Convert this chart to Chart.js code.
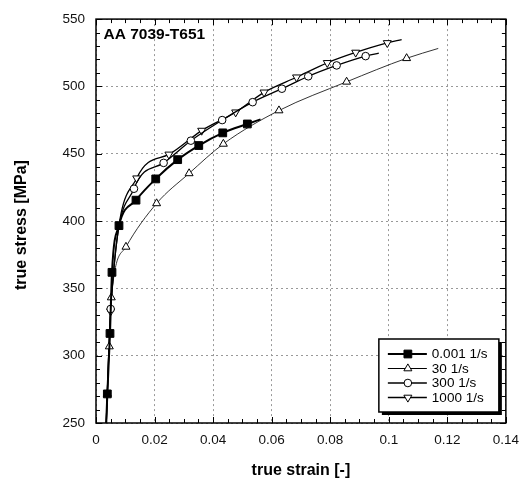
<!DOCTYPE html>
<html>
<head>
<meta charset="utf-8">
<title>AA 7039-T651 true stress vs true strain</title>
<script src="https://cdn.jsdelivr.net/npm/chart.js@4.4.1/dist/chart.umd.min.js"></script>
<style>
  html, body { margin: 0; padding: 0; background: #fff; }
  #wrap { position: relative; width: 528px; height: 484px; }
</style>
</head>
<body>
<div id="wrap"><canvas id="chart"></canvas></div>
<script>
// values; first and last point of each curve are line ends (no marker)
const rateLabels = ['0.001 1/s', '30 1/s', '300 1/s', '1000 1/s'];

const strain0001 = [0.0035, 0.00387, 0.00478, 0.00546, 0.00785, 0.01366, 0.0204, 0.0279, 0.0351, 0.0433, 0.0517, 0.0562];
const stress0001 = [250, 271.6, 316.5, 361.9, 396.6, 415.5, 431.3, 445.6, 456.1, 465.5, 472.1, 475.5];

const strain30 = [0.0035, 0.00387, 0.00455, 0.00523, 0.01024, 0.0207, 0.0318, 0.0435, 0.0625, 0.0856, 0.1061, 0.1169];
const stress30 = [250, 271.6, 306.8, 343.2, 380.8, 413.1, 435.4, 457.3, 482.1, 503.4, 520.9, 528.2];

const strain300 = [0.0035, 0.00501, 0.01297, 0.0231, 0.0324, 0.0431, 0.0535, 0.0635, 0.0725, 0.0822, 0.0921, 0.0966];
const stress300 = [250, 334.7, 424.0, 443.2, 459.7, 475.0, 488.3, 498.3, 507.5, 515.6, 522.5, 524.7];

const strain1000 = [0.0035, 0.0050, 0.0139, 0.0249, 0.0361, 0.0477, 0.0574, 0.0685, 0.0790, 0.0887, 0.0995, 0.1044];
const stress1000 = [250, 333.0, 431.8, 449.5, 467.2, 480.8, 495.6, 506.8, 517.5, 525.2, 532.3, 534.7];

const xTickValues = [0, 0.02, 0.04, 0.06, 0.08, 0.1, 0.12, 0.14];
const yTickValues = [250, 300, 350, 400, 450, 500, 550];
const xMinorStep = 0.005;
const yMinorStep = 10;

const FONT = '"Liberation Sans", Arial, Helvetica, sans-serif';

function makeSeries(label, xs, ys, opts) {
  const last = xs.length - 1;
  return {
    label: label,
    data: xs.map((x, i) => ({ x: x, y: ys[i] })),
    borderColor: '#000',
    borderWidth: opts.lineWidth,
    pointStyle: opts.style,
    rotation: opts.rotation || 0,
    pointRadius: xs.map((x, i) => (i === 0 || i === last) ? 0 : opts.radius),
    pointHoverRadius: 0,
    pointBackgroundColor: opts.fill,
    pointBorderColor: '#000',
    pointBorderWidth: 1,
    cubicInterpolationMode: 'monotone',
    showLine: true,
    fill: false,
    _legend: opts
  };
}

const specs = [
  { style: 'rect', radius: 5.5, fill: '#000', lineWidth: 2 },
  { style: 'triangle', radius: 4.6, fill: '#fff', lineWidth: 0.8 },
  { style: 'circle', radius: 3.8, fill: '#fff', lineWidth: 1.3 },
  { style: 'triangle', rotation: 180, radius: 4.6, fill: '#fff', lineWidth: 1.3 }
];

const datasets = [
  makeSeries(rateLabels[0], strain0001, stress0001, specs[0]),
  makeSeries(rateLabels[1], strain30, stress30, specs[1]),
  makeSeries(rateLabels[2], strain300, stress300, specs[2]),
  makeSeries(rateLabels[3], strain1000, stress1000, specs[3])
];

function drawMarker(ctx, spec, x, y) {
  const r = spec.radius;
  ctx.beginPath();
  if (spec.style === 'rect') {
    const s = Math.SQRT1_2 * r;
    ctx.rect(x - s, y - s, 2 * s, 2 * s);
  } else if (spec.style === 'circle') {
    ctx.arc(x, y, r, 0, Math.PI * 2);
  } else {
    const d = spec.rotation ? -1 : 1;
    ctx.moveTo(x, y - d * r);
    ctx.lineTo(x + r * 0.866, y + d * r / 2);
    ctx.lineTo(x - r * 0.866, y + d * r / 2);
    ctx.closePath();
  }
  ctx.fillStyle = spec.fill;
  ctx.fill();
  ctx.lineWidth = 1;
  ctx.strokeStyle = '#000';
  ctx.stroke();
}

// frame, inward ticks, titles and the boxed legend
const decorations = {
  id: 'decorations',
  afterDraw(chart) {
    const ctx = chart.ctx;
    const a = chart.chartArea;
    const xs = chart.scales.x, ys = chart.scales.y;
    ctx.save();

    ctx.strokeStyle = '#000';
    ctx.lineWidth = 1;
    ctx.beginPath();
    for (let k = 0; k <= Math.round((xs.max - xs.min) / xMinorStep); k++) {
      const v = xs.min + k * xMinorStep;
      const px = Math.round(xs.getPixelForValue(v)) + 0.5;
      const len = k % 4 === 0 ? 6 : 4;
      ctx.moveTo(px, a.bottom); ctx.lineTo(px, a.bottom - len);
      ctx.moveTo(px, a.top); ctx.lineTo(px, a.top + len);
    }
    for (let k = 0; k <= Math.round((ys.max - ys.min) / yMinorStep); k++) {
      const v = ys.min + k * yMinorStep;
      const py = Math.round(ys.getPixelForValue(v)) + 0.5;
      const len = k % 5 === 0 ? 6 : 4;
      ctx.moveTo(a.left, py); ctx.lineTo(a.left + len, py);
      ctx.moveTo(a.right, py); ctx.lineTo(a.right - len, py);
    }
    ctx.stroke();

    ctx.lineWidth = 1.5;
    ctx.strokeRect(a.left, a.top, a.right - a.left, a.bottom - a.top);

    // texts
    ctx.fillStyle = '#000';
    ctx.font = 'bold 15.5px ' + FONT;
    ctx.textAlign = 'left';
    ctx.textBaseline = 'alphabetic';
    ctx.fillText('AA 7039-T651', a.left + 7.5, a.top + 19.5);

    ctx.font = 'bold 16px ' + FONT;
    ctx.textAlign = 'center';
    ctx.textBaseline = 'middle';
    ctx.fillText('true strain [-]', (a.left + a.right) / 2, 471);
    ctx.save();
    ctx.translate(21.5, (a.top + a.bottom) / 2 + 4);
    ctx.rotate(-Math.PI / 2);
    ctx.fillText('true stress [MPa]', 0, 0);
    ctx.restore();

    // legend box
    const bw = 120, bh = 73;
    const bx = a.right - 7 - bw, by = a.bottom - 11 - bh;
    ctx.fillStyle = '#000';
    ctx.fillRect(bx + 3, by + 3, bw, bh);
    ctx.fillStyle = '#fff';
    ctx.fillRect(bx, by, bw, bh);
    ctx.lineWidth = 1.5;
    ctx.strokeStyle = '#000';
    ctx.strokeRect(bx, by, bw, bh);

    ctx.font = '13.5px ' + FONT;
    ctx.textAlign = 'left';
    ctx.textBaseline = 'middle';
    chart.data.datasets.forEach((ds, i) => {
      const spec = ds._legend;
      const cy = by + 15 + i * 14.5;
      ctx.beginPath();
      ctx.lineWidth = Math.max(spec.lineWidth, 1);
      ctx.strokeStyle = '#000';
      ctx.moveTo(bx + 9, cy);
      ctx.lineTo(bx + 48, cy);
      ctx.stroke();
      drawMarker(ctx, spec, bx + 29, cy);
      ctx.fillStyle = '#000';
      ctx.fillText(ds.label, bx + 53, cy + 0.5);
    });

    ctx.restore();
  }
};

const ctx = document.getElementById('chart').getContext('2d');
new Chart(ctx, {
  type: 'scatter',
  data: { datasets: datasets },
  options: {
    responsive: true,
    maintainAspectRatio: false,
    animation: false,
    layout: { padding: { top: 11, right: 22, left: 0, bottom: 0 } },
    plugins: {
      legend: { display: false },
      tooltip: { enabled: false }
    },
    scales: {
      x: {
        type: 'linear',
        min: 0,
        max: 0.14,
        afterBuildTicks: s => { s.ticks = xTickValues.map(v => ({ value: v })); },
        afterFit: s => { s.height = 61; },
        grid: { color: '#999', lineWidth: 1, drawTicks: false },
        border: { display: false, dash: [2, 3] },
        ticks: {
          padding: 9,
          color: '#111',
          font: { family: FONT, size: 13.5 },
          maxRotation: 0,
          callback: v => String(+v.toFixed(2))
        }
      },
      y: {
        type: 'linear',
        min: 250,
        max: 550,
        afterBuildTicks: s => { s.ticks = yTickValues.map(v => ({ value: v })); },
        afterFit: s => { s.width = 96; },
        grid: { color: '#999', lineWidth: 1, drawTicks: false },
        border: { display: false, dash: [2, 3] },
        ticks: {
          padding: 11,
          color: '#111',
          font: { family: FONT, size: 13.5 }
        }
      }
    }
  },
  plugins: [decorations]
});
</script>
</body>
</html>
